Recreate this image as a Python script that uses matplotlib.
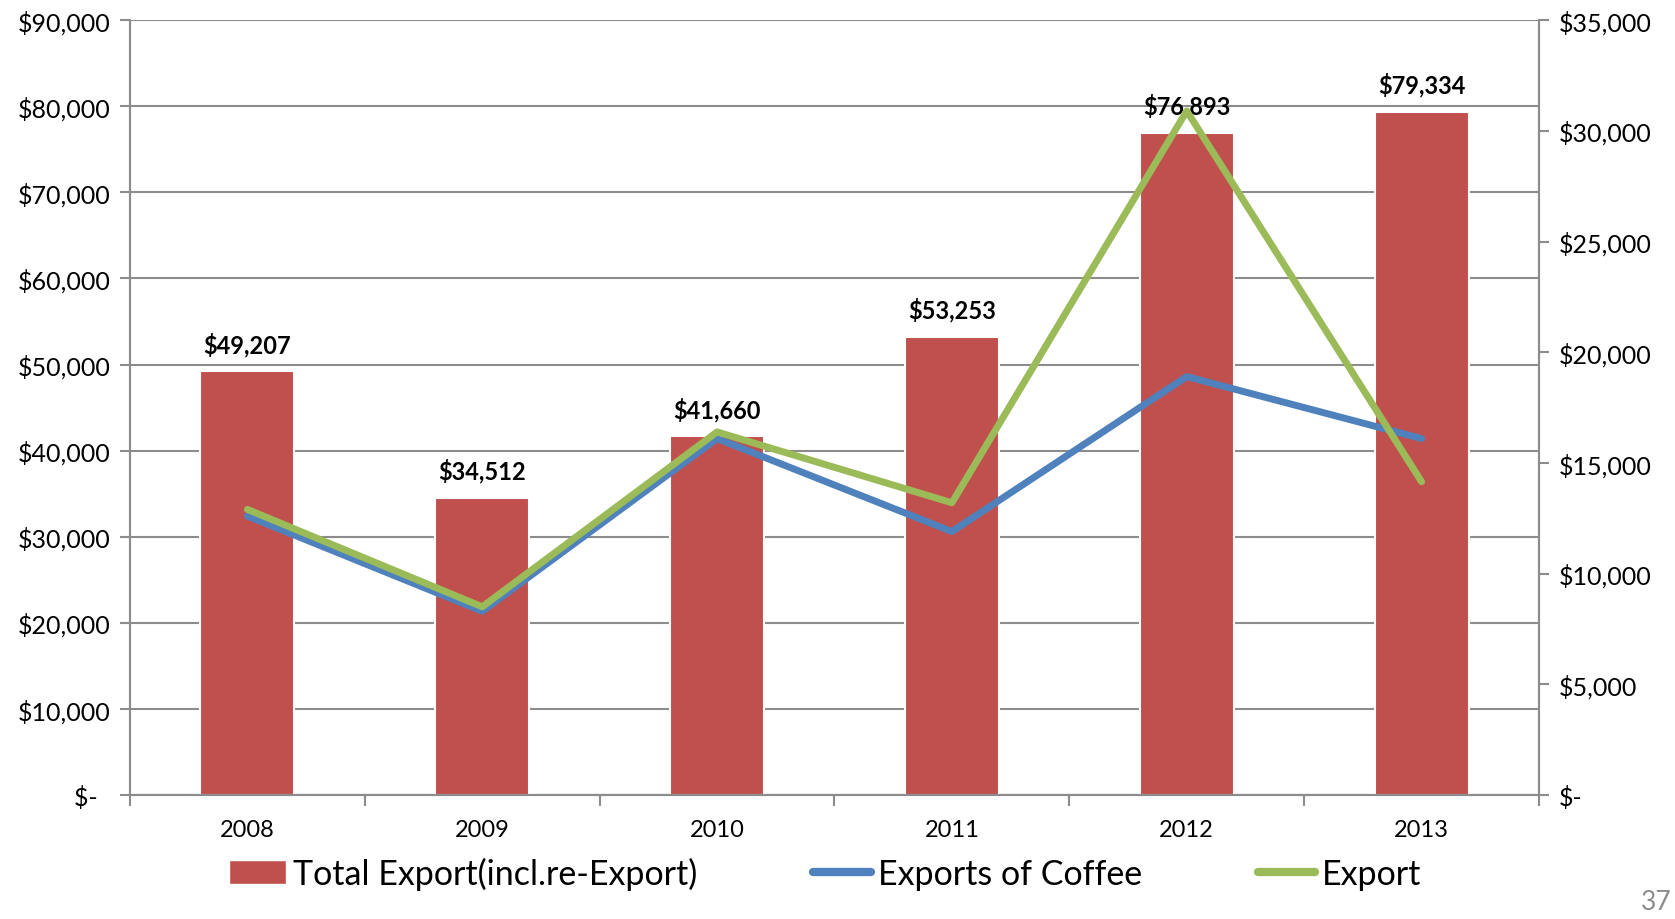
"""Total export vs coffee exports, 2008-2013"""
import matplotlib
matplotlib.use('Agg')
import matplotlib.pyplot as plt
from matplotlib.ticker import FuncFormatter, MultipleLocator, FixedLocator
from matplotlib.patches import Patch
from matplotlib.lines import Line2D
import numpy as np

years = ['2008', '2009', '2010', '2011', '2012', '2013']
total_export = [49207, 34512, 41660, 53253, 76893, 79334]
coffee_export = [12600, 8300, 16100, 11900, 18900, 16100]
export = [12900, 8500, 16400, 13200, 30900, 14150]

RED = '#C0504D'
BLUE = '#4F81BD'
GREEN = '#9BBB59'
GRID = '#8C8C8C'

plt.rcParams['font.family'] = ['Lato', 'DejaVu Sans']


def money(v, _pos=None):
    if v == 0:
        return '$-  '
    return '${:,.0f}'.format(v)


def money_r(v, _pos=None):
    if v == 0:
        return '$-'
    return '${:,.0f}'.format(v)


fig = plt.figure(figsize=(16.75, 9.2), dpi=100)
ax = fig.add_axes([0.0776, 0.1348, 0.8412, 0.8422])
x = np.arange(len(years))

ax.bar(x, total_export, width=0.4, color=RED, edgecolor='white', linewidth=1.5, zorder=3)
for xi, v in zip(x, total_export):
    ax.annotate(money(v), (xi, v), xytext=(0, 11), textcoords='offset points',
                ha='center', va='bottom', fontsize=17, fontweight='bold', zorder=4)

ax.set_xlim(-0.5, len(years) - 0.5)
ax.set_ylim(0, 90000)
ax.yaxis.set_major_locator(MultipleLocator(10000))
ax.yaxis.set_major_formatter(FuncFormatter(money))
ax.grid(axis='y', color=GRID, linewidth=1.5)
ax.set_axisbelow(True)
ax.set_xticks(x)
ax.set_xticklabels(years)
ax.xaxis.set_minor_locator(FixedLocator(np.arange(-0.5, len(years), 1.0)))
ax.tick_params(axis='x', which='major', length=0, pad=17, labelsize=17)
ax.tick_params(axis='x', which='minor', length=8, width=1.5, color=GRID)
ax.tick_params(axis='y', length=7, width=1.5, color=GRID, pad=7, labelsize=18)
for side in ['left', 'bottom', 'right']:
    ax.spines[side].set_color(GRID)
    ax.spines[side].set_linewidth(1.5)
ax.spines['top'].set_visible(False)

ax2 = ax.twinx()
ax2.plot(x, coffee_export, color=BLUE, linewidth=5, solid_capstyle='round', zorder=5)
ax2.plot(x, export, color=GREEN, linewidth=5, solid_capstyle='round', zorder=6)
ax2.set_ylim(0, 35000)
ax2.yaxis.set_major_locator(MultipleLocator(5000))
ax2.yaxis.set_major_formatter(FuncFormatter(money_r))
ax2.tick_params(axis='y', length=7, width=1.5, color=GRID, pad=7, labelsize=18)
for side in ['left', 'bottom', 'right']:
    ax2.spines[side].set_color(GRID)
    ax2.spines[side].set_linewidth(1.5)
ax2.spines['top'].set_visible(False)

handles = [
    Patch(facecolor=RED, edgecolor='white'),
    Line2D([], [], color=BLUE, linewidth=6, solid_capstyle='round'),
    Line2D([], [], color=GREEN, linewidth=6, solid_capstyle='round'),
]
labels = ['Total Export(incl.re-Export)', 'Exports of Coffee', 'Export']
fig.legend(handles, labels, loc='center', bbox_to_anchor=(0.4926, 0.05), ncol=3,
           frameon=False, fontsize=24.5, handlelength=1.7, handleheight=0.7,
           handletextpad=0.2, columnspacing=3.4)

# page number, kept just inside the right edge
fig.text(0.998, 0.0186, '37', fontsize=19, color='#8C8C8C', ha='right', va='center')

fig.savefig('out.png', dpi=100)
